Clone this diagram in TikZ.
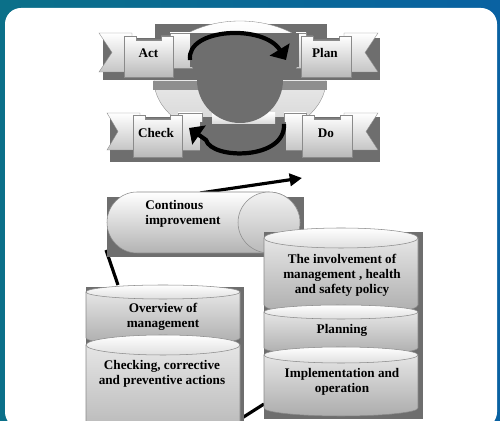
\documentclass[tikz,border=0pt]{standalone}
\usepackage{fontspec}
\setmainfont{Liberation Serif}
\usetikzlibrary{arrows.meta}

% cylinder: centre x, top y, bottom y, x radius, y radius
\newcommand{\drawcyl}[5]{%
  \path[cylbody] ({#1-#4},#2) -- ({#1-#4},#3) arc[start angle=180, end angle=0, x radius=#4, y radius=#5] -- ({#1+#4},#2) -- cycle;
  \path[cyltop] (#1,#2) ellipse [x radius=#4, y radius=#5];
}
% tabbed box: left x, right x, tab y, bottom y
\newcommand{\pdcabox}[4]{%
  \path[tabbox] (#1,#4) -- (#1,#3) -- ({#1+12},#3) -- ({#1+12},{#3+4}) -- ({#2-12},{#3+4}) -- ({#2-12},#3) -- (#2,#3) -- (#2,#4) -- cycle;
}

\begin{document}
\begin{tikzpicture}[x=0.02cm, y=-0.02cm]
    % Define colors
    \definecolor{bgLeft}{HTML}{0B7089}
    \definecolor{bgRight}{HTML}{0A62A2}
    \definecolor{darkGrey}{HTML}{6E6E6E}
    \definecolor{bandGrey}{HTML}{8E8E8E}
    \definecolor{lineGrey}{HTML}{8A8A8A}

    % Define styles
    \tikzset{
        darkpart/.style={fill=darkGrey},
        ribbon/.style={top color=white, bottom color=gray!45, draw=lineGrey, line width=0.2pt},
        tabbox/.style={top color=white, bottom color=gray!55, draw=lineGrey, line width=0.2pt},
        cylbody/.style={top color=gray!20, bottom color=gray!65, draw=lineGrey, line width=0.3pt},
        cyltop/.style={top color=white, bottom color=gray!25, draw=lineGrey, line width=0.3pt},
        boxtext/.style={font=\fontsize{7.5}{8.5}\selectfont\bfseries, align=center, inner sep=0pt},
        cyclearrow/.style={line width=2.4pt, -{Triangle[length=7pt, width=13pt]}},
        flowline/.style={line width=1.8pt},
        flowarrow/.style={line width=1.8pt, -{Triangle[length=7pt, width=7pt]}}
    }

    \useasboundingbox (0,0) rectangle (500,421);

    % Draw background and panel
    \fill[left color=bgLeft, right color=bgRight] (0,0) rectangle (500,421);
    \fill[white, rounded corners=0.32cm] (5,8) rectangle (497,428);

    % PDCA back shapes
    \fill[darkpart] (155,24) rectangle (327,80);
    \path[top color=white, bottom color=gray!35, draw=lineGrey, line width=0.2pt] (240,80) ellipse [x radius=86, y radius=59];
    \fill[fill=bandGrey] (153,81) rectangle (327,90);

    % Upper row
    \fill[darkpart] (103,38) rectangle (380,80);
    \path[ribbon] (99,33) -- (132,33) -- (132,72) -- (99,72) -- (112,52.5) -- cycle;
    \path[ribbon] (170,33) rectangle (192,68);
    \path[ribbon] (296,33) rectangle (306,68);
    \path[ribbon] (344,33) -- (378,33) -- (365,52.5) -- (378,72) -- (344,72) -- cycle;
    \fill[darkpart] (190,33) rectangle (299,67);

    % Lower row
    \fill[darkpart] (110,117) rectangle (380,162);
    \path[ribbon] (107,113) -- (140,113) -- (140,150) -- (107,150) -- (118,131.5) -- cycle;
    \path[ribbon] (178,113) rectangle (202,150);
    \path[ribbon] (284,113) rectangle (306,150);
    \path[ribbon] (344,113) -- (378,113) -- (366,131.5) -- (378,150) -- (344,150) -- cycle;
    \fill[darkpart] (200,122) rectangle (286,158);
    \path[top color=white, bottom color=gray!30] (212,113) rectangle (275,124);

    % Centre circle
    \fill[darkpart] (240,80) circle [radius=43];

    % Boxes
    \pdcabox{124}{173}{36}{77}
    \pdcabox{301}{351}{36}{77}
    \pdcabox{133}{182}{115}{157}
    \pdcabox{302}{352}{115}{157}
    \node[boxtext] (act) at (148.5,53) {Act};
    \node[boxtext] (plan) at (325,53) {Plan};
    \node[boxtext] (check) at (156,133) {Check};
    \node[boxtext] (do) at (326,133) {Do};

    % Cycle arrows
    \coordinate (actArc) at (190,60);
    \coordinate (planArc) at (286,60);
    \coordinate (doArc) at (284,124);
    \coordinate (checkArc) at (189,128);
    \draw[cyclearrow] (actArc) .. controls (186,28) and (264,24) .. (planArc);
    \draw[cyclearrow] (doArc) .. controls (286,160) and (212,160) .. (206,140) -- (checkArc);

    % Connector lines behind the shapes
    \coordinate (ciStart) at (200,193);
    \coordinate (ciEnd) at (302,178);
    \coordinate (loopTop) at (106,250);
    \coordinate (loopLeft) at (118,285);
    \coordinate (loopBottom) at (242,418);
    \coordinate (loopRight) at (264,404);
    \draw[flowarrow] (ciStart) -- (ciEnd);
    \draw[flowline] (loopTop) -- (loopLeft);
    \draw[flowline] (loopBottom) -- (loopRight);

    % Continous improvement capsule
    \fill[darkpart] (107,197) rectangle (304,257);
    \path[top color=white, bottom color=gray!60, draw=lineGrey, line width=0.3pt] (137,192) -- (269,192) arc[start angle=-90, end angle=90, x radius=31, y radius=30.5] -- (137,253) arc[start angle=90, end angle=270, x radius=30, y radius=30.5] -- cycle;
    \path[top color=gray!10, bottom color=gray!55, draw=lineGrey, line width=0.3pt] (269,222.5) ellipse [x radius=31, y radius=30.5];
    \node[boxtext, align=left, anchor=west] (improve) at (145,214) {Continous\\improvement};

    % Left stack
    \fill[darkpart] (86,287) rectangle (244,428);
    \drawcyl{163}{292}{338}{77}{7}
    \drawcyl{163}{345}{445}{77}{10}
    \node[boxtext] (overview) at (163,317) {Overview of\\management};
    \node[boxtext] (checking) at (162,373.5) {Checking, corrective\\and preventive actions};

    % Right stack
    \fill[darkpart] (264,232) rectangle (423,419);
    \drawcyl{341}{238}{305}{77}{10}
    \drawcyl{341}{312}{348}{77}{7}
    \drawcyl{341}{355}{408}{77}{8}
    \node[boxtext] (involve) at (342,275) {The involvement of\\management , health\\and safety policy};
    \node[boxtext] (planning) at (342,330) {Planning};
    \node[boxtext] (implement) at (342,382) {Implementation and\\operation};

\end{tikzpicture}
\end{document}
